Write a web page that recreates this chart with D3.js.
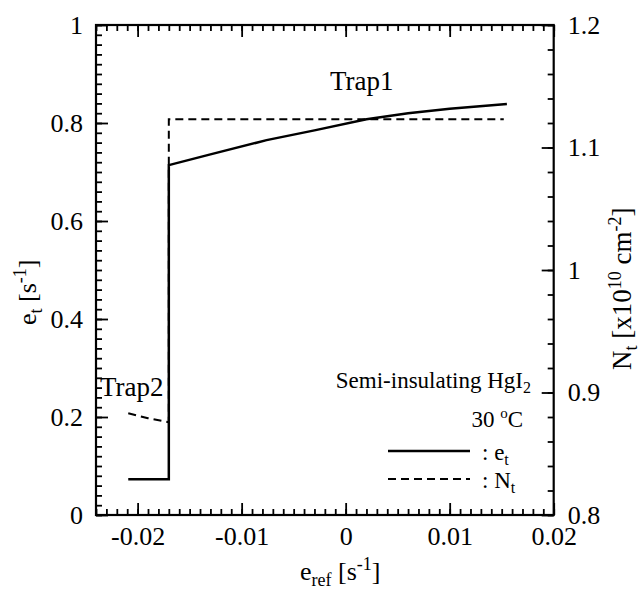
<!DOCTYPE html>
<html>
<head>
<meta charset="utf-8">
<script src="https://cdn.jsdelivr.net/npm/d3@7"></script>
<style>
  body { margin: 0; background: #fff; }
  svg { display: block; }
</style>
</head>
<body>
<div id="chart"></div>
<script>
// e_t curve (solid), left axis
const etX = [-0.0209, -0.017, -0.017, -0.013, -0.0076, -0.003, 0.002, 0.006, 0.010, 0.0155];
const etY = [0.073, 0.073, 0.714, 0.736, 0.765, 0.785, 0.8075, 0.820, 0.829, 0.839];

// N_t curve (dashed), right axis
const ntX = [-0.0209, -0.019, -0.017, -0.017, 0.0152];
const ntY = [0.883, 0.879, 0.8757, 1.123, 1.123];

const xTicks = [-0.02, -0.01, 0, 0.01, 0.02];
const xTickLabels = ["-0.02", "-0.01", "0", "0.01", "0.02"];
const yLeftTicks = [0, 0.2, 0.4, 0.6, 0.8, 1];
const yLeftLabels = ["0", "0.2", "0.4", "0.6", "0.8", "1"];
const yRightTicks = [0.8, 0.9, 1.0, 1.1, 1.2];
const yRightLabels = ["0.8", "0.9", "1", "1.1", "1.2"];

const FONT = "Liberation Serif";
const width = 642, height = 592;
const plotL = 96, plotR = 553.7, plotT = 25, plotB = 515;

const svg = d3.select("#chart").append("svg")
  .attr("width", width)
  .attr("height", height)
  .style("background", "#fff");

const x = d3.scaleLinear().domain([-0.024, 0.02]).range([plotL, plotR]);
const yL = d3.scaleLinear().domain([0, 1]).range([plotB, plotT]);
const yR = d3.scaleLinear().domain([0.8, 1.2]).range([plotB, plotT]);

const xMinor = d3.range(-24, 21).map(i => i / 1000);
const yLMinor = d3.range(0, 51).map(i => i / 50);
const yRMinor = d3.range(0, 21).map(i => 0.8 + i / 50);

function styleAxis(g) {
  g.attr("font-family", FONT);
  g.select(".domain").remove();
  g.selectAll("line").attr("stroke", "#000").attr("stroke-width", 1.8);
  g.selectAll("text").style("font-size", "26px").style("font-family", FONT).attr("fill", "#000");
}

function label(sel, size) {
  return sel.append("text").style("font-family", FONT).style("font-size", size + "px").attr("fill", "#000");
}

// bottom
svg.append("g").attr("transform", `translate(0,${plotB})`)
  .call(d3.axisBottom(x).tickValues(xMinor).tickSize(-6).tickFormat(""))
  .call(styleAxis);
svg.append("g").attr("transform", `translate(0,${plotB})`)
  .call(d3.axisBottom(x).tickValues(xTicks).tickSize(-12).tickPadding(12)
    .tickFormat((d, i) => xTickLabels[i]))
  .call(styleAxis);
// top
svg.append("g").attr("transform", `translate(0,${plotT})`)
  .call(d3.axisTop(x).tickValues(xMinor).tickSize(-6).tickFormat(""))
  .call(styleAxis);
svg.append("g").attr("transform", `translate(0,${plotT})`)
  .call(d3.axisTop(x).tickValues(xTicks).tickSize(-12).tickFormat(""))
  .call(styleAxis);
// left
svg.append("g").attr("transform", `translate(${plotL},0)`)
  .call(d3.axisLeft(yL).tickValues(yLMinor).tickSize(-6).tickFormat(""))
  .call(styleAxis);
svg.append("g").attr("transform", `translate(${plotL},0)`)
  .call(d3.axisLeft(yL).tickValues(yLeftTicks).tickSize(-12).tickPadding(13)
    .tickFormat((d, i) => yLeftLabels[i]))
  .call(styleAxis);
// right
svg.append("g").attr("transform", `translate(${plotR},0)`)
  .call(d3.axisRight(yR).tickValues(yRMinor).tickSize(-6).tickFormat(""))
  .call(styleAxis);
svg.append("g").attr("transform", `translate(${plotR},0)`)
  .call(d3.axisRight(yR).tickValues(yRightTicks).tickSize(-12).tickPadding(14)
    .tickFormat((d, i) => yRightLabels[i]))
  .call(styleAxis);

// frame
svg.append("rect")
  .attr("x", plotL).attr("y", plotT)
  .attr("width", plotR - plotL).attr("height", plotB - plotT)
  .attr("fill", "none").attr("stroke", "#000").attr("stroke-width", 2.2);

// data lines
const etLine = d3.line().x(d => x(d[0])).y(d => yL(d[1]));
const ntLine = d3.line().x(d => x(d[0])).y(d => yR(d[1]));

svg.append("path")
  .datum(etX.map((v, i) => [v, etY[i]]))
  .attr("d", etLine)
  .attr("fill", "none").attr("stroke", "#000").attr("stroke-width", 2.5);

svg.append("path")
  .datum(ntX.map((v, i) => [v, ntY[i]]))
  .attr("d", ntLine)
  .attr("fill", "none").attr("stroke", "#000").attr("stroke-width", 2)
  .attr("stroke-dasharray", "8,5");

// annotations
label(svg, 27).attr("x", 330).attr("y", 90).text("Trap1");
label(svg, 27).attr("x", 100).attr("y", 396).text("Trap2");

const t1 = label(svg, 23).attr("x", 531).attr("y", 388).attr("text-anchor", "end");
t1.append("tspan").text("Semi-insulating HgI");
t1.append("tspan").attr("dy", 5).style("font-size", "16px").text("2");

const t2 = label(svg, 23).attr("x", 523).attr("y", 427).attr("text-anchor", "end");
t2.append("tspan").text("30 ");
t2.append("tspan").attr("dy", -9).style("font-size", "15px").text("o");
t2.append("tspan").attr("dy", 9).text("C");

// legend
svg.append("line").attr("x1", 388).attr("x2", 470).attr("y1", 451).attr("y2", 451)
  .attr("stroke", "#000").attr("stroke-width", 2.5);
svg.append("line").attr("x1", 388).attr("x2", 470).attr("y1", 479).attr("y2", 479)
  .attr("stroke", "#000").attr("stroke-width", 2).attr("stroke-dasharray", "8,5");

const l1 = label(svg, 23).attr("x", 482).attr("y", 460);
l1.append("tspan").text(": e");
l1.append("tspan").attr("dy", 5).style("font-size", "16px").text("t");
const l2 = label(svg, 23).attr("x", 482).attr("y", 488);
l2.append("tspan").text(": N");
l2.append("tspan").attr("dy", 5).style("font-size", "16px").text("t");

// axis titles
const xt = label(svg, 26).attr("x", 300).attr("y", 580);
xt.append("tspan").text("e");
xt.append("tspan").attr("dy", 6).style("font-size", "18px").text("ref");
xt.append("tspan").attr("dy", -6).text("  [s");
xt.append("tspan").attr("dy", -10).style("font-size", "18px").text("-1");
xt.append("tspan").attr("dy", 10).text("]");

const yt = label(svg, 26).attr("transform", "translate(36,325) rotate(-90)");
yt.append("tspan").text("e");
yt.append("tspan").attr("dy", 6).style("font-size", "18px").text("t");
yt.append("tspan").attr("dy", -6).text("  [s");
yt.append("tspan").attr("dy", -10).style("font-size", "18px").text("-1");
yt.append("tspan").attr("dy", 10).text("]");

const yt2 = label(svg, 27).attr("transform", "translate(631,370) rotate(-90)");
yt2.append("tspan").text("N");
yt2.append("tspan").attr("dy", 6).style("font-size", "18px").text("t");
yt2.append("tspan").attr("dy", -6).text("  [x10");
yt2.append("tspan").attr("dy", -10).style("font-size", "18px").text("10");
yt2.append("tspan").attr("dy", 10).text(" cm");
yt2.append("tspan").attr("dy", -10).style("font-size", "18px").text("-2");
yt2.append("tspan").attr("dy", 10).text("]");
</script>
</body>
</html>
